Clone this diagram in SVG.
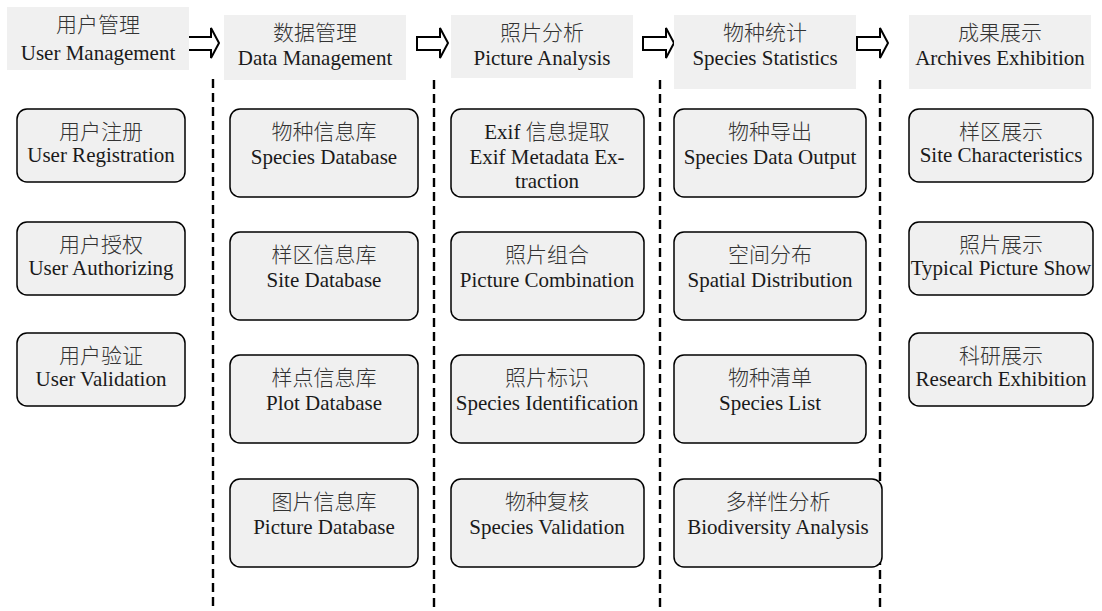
<svg xmlns="http://www.w3.org/2000/svg" width="1102" height="611" viewBox="0 0 1102 611">
<style>
.hd{fill:#f0f0f0;stroke:none}
.nd{fill:#f0f0f0;stroke:#000;stroke-width:1.5}
text{font-family:"Liberation Serif","Noto Sans CJK SC",serif;font-size:21px;fill:#1a1a1a;text-anchor:middle}
text.zh{fill:#333;font-weight:300}
.dash{stroke:#000;stroke-width:2.4;stroke-dasharray:9 5;fill:none}
.arr{fill:#fff;stroke:#000;stroke-width:2;stroke-linejoin:miter}
</style>
<rect width="1102" height="611" fill="#fff"/>
<g id="connectors">
<line class="dash" x1="213" y1="79" x2="213" y2="611"/>
<line class="dash" x1="434" y1="80" x2="434" y2="611"/>
<line class="dash" x1="660" y1="80" x2="660" y2="611"/>
<line class="dash" x1="880" y1="80" x2="880" y2="611"/>
<path class="arr" d="M188,37 H211 V28 L219,43 L211,58 V50 H188 Z"/>
<path class="arr" d="M417,37 H440 V28 L448,43 L440,58 V50 H417 Z"/>
<path class="arr" d="M643,37 H666 V28 L674,43 L666,58 V50 H643 Z"/>
<path class="arr" d="M857,37 H880 V28 L888,43 L880,58 V50 H857 Z"/>
</g>
<g id="h1"><rect class="hd" x="7" y="7" width="182" height="63"/><text class="zh" x="98" y="32">用户管理</text><text x="98" y="60">User Management</text></g>
<g id="h2"><rect class="hd" x="224" y="15" width="182" height="65"/><text class="zh" x="315" y="40">数据管理</text><text x="315" y="65">Data Management</text></g>
<g id="h3"><rect class="hd" x="451" y="15" width="182" height="63"/><text class="zh" x="542" y="40">照片分析</text><text x="542" y="65">Picture Analysis</text></g>
<g id="h4"><rect class="hd" x="674" y="15" width="182" height="74"/><text class="zh" x="765" y="40">物种统计</text><text x="765" y="65">Species Statistics</text></g>
<g id="h5"><rect class="hd" x="909" y="15" width="182" height="74"/><text class="zh" x="1000" y="40">成果展示</text><text x="1000" y="65">Archives Exhibition</text></g>

<g id="n11"><rect class="nd" x="17" y="109" width="168" height="73" rx="10"/><text class="zh" x="101" y="139">用户注册</text><text x="101" y="162">User Registration</text></g>
<g id="n12"><rect class="nd" x="17" y="222" width="168" height="73" rx="10"/><text class="zh" x="101" y="252">用户授权</text><text x="101" y="275">User Authorizing</text></g>
<g id="n13"><rect class="nd" x="17" y="333" width="168" height="73" rx="10"/><text class="zh" x="101" y="363">用户验证</text><text x="101" y="386">User Validation</text></g>

<g id="n21"><rect class="nd" x="230" y="109" width="188" height="88" rx="10"/><text class="zh" x="324" y="139">物种信息库</text><text x="324" y="164">Species Database</text></g>
<g id="n22"><rect class="nd" x="230" y="232" width="188" height="88" rx="10"/><text class="zh" x="324" y="262">样区信息库</text><text x="324" y="287">Site Database</text></g>
<g id="n23"><rect class="nd" x="230" y="355" width="188" height="88" rx="10"/><text class="zh" x="324" y="385">样点信息库</text><text x="324" y="410">Plot Database</text></g>
<g id="n24"><rect class="nd" x="230" y="479" width="188" height="88" rx="10"/><text class="zh" x="324" y="509">图片信息库</text><text x="324" y="534">Picture Database</text></g>

<g id="n31"><rect class="nd" x="451" y="109" width="193" height="88" rx="10"/><text x="547" y="139">Exif <tspan fill="#333" font-weight="300">信息提取</tspan></text><text x="547" y="164">Exif Metadata Ex-</text><text x="547" y="188">traction</text></g>
<g id="n32"><rect class="nd" x="451" y="232" width="193" height="88" rx="10"/><text class="zh" x="547" y="262">照片组合</text><text x="547" y="287">Picture Combination</text></g>
<g id="n33"><rect class="nd" x="451" y="355" width="193" height="88" rx="10"/><text class="zh" x="547" y="385">照片标识</text><text x="547" y="410">Species Identification</text></g>
<g id="n34"><rect class="nd" x="451" y="479" width="193" height="88" rx="10"/><text class="zh" x="547" y="509">物种复核</text><text x="547" y="534">Species Validation</text></g>

<g id="n41"><rect class="nd" x="674" y="109" width="192" height="88" rx="10"/><text class="zh" x="770" y="139">物种导出</text><text x="770" y="164">Species Data Output</text></g>
<g id="n42"><rect class="nd" x="674" y="232" width="192" height="88" rx="10"/><text class="zh" x="770" y="262">空间分布</text><text x="770" y="287">Spatial Distribution</text></g>
<g id="n43"><rect class="nd" x="674" y="355" width="192" height="88" rx="10"/><text class="zh" x="770" y="385">物种清单</text><text x="770" y="410">Species List</text></g>
<g id="n44"><rect class="nd" x="674" y="479" width="208" height="88" rx="10"/><text class="zh" x="778" y="509">多样性分析</text><text x="778" y="534">Biodiversity Analysis</text></g>

<g id="n51"><rect class="nd" x="909" y="109" width="184" height="73" rx="10"/><text class="zh" x="1001" y="139">样区展示</text><text x="1001" y="162">Site Characteristics</text></g>
<g id="n52"><rect class="nd" x="909" y="222" width="184" height="73" rx="10"/><text class="zh" x="1001" y="252">照片展示</text><text x="1001" y="275">Typical Picture Show</text></g>
<g id="n53"><rect class="nd" x="909" y="333" width="184" height="73" rx="10"/><text class="zh" x="1001" y="363">科研展示</text><text x="1001" y="386">Research Exhibition</text></g>
</svg>
